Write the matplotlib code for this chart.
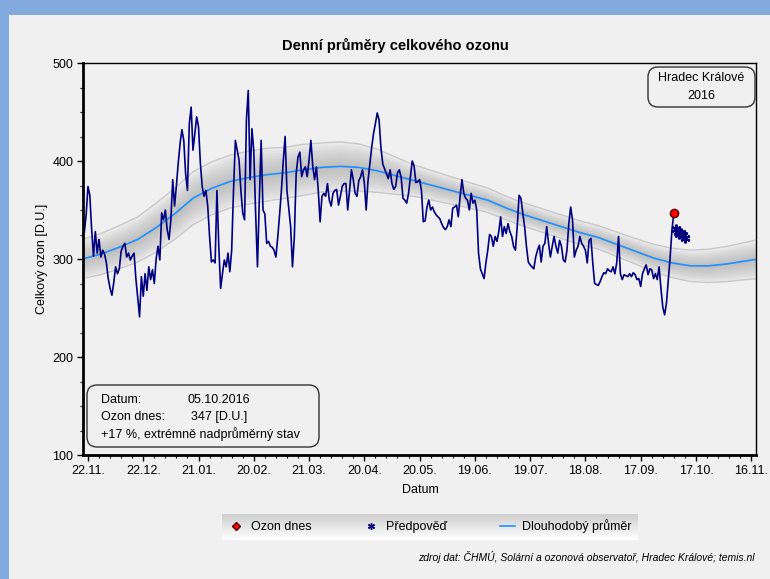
import numpy as np
import matplotlib.pyplot as plt
import matplotlib.dates as mdates
from matplotlib.patches import Rectangle, FancyBboxPatch
from matplotlib.lines import Line2D

plt.rcParams['font.family'] = ['Liberation Sans', 'DejaVu Sans']

# denni prumery celkoveho ozonu [D.U.], od 20.11.2015 do 05.10.2016
ozone = [
    327, 345, 374, 365, 330, 303, 328, 306, 320, 302,
    309, 305, 296, 280, 270, 263, 276, 292, 285, 290,
    308, 313, 316, 302, 306, 299, 303, 306, 280, 260,
    241, 282, 262, 285, 268, 292, 279, 289, 275, 300,
    313, 299, 347, 340, 350, 330, 320, 340, 381, 354,
    375, 398, 418, 432, 421, 387, 370, 438, 455, 411,
    428, 445, 435, 398, 374, 364, 370, 354, 323, 297,
    299, 296, 370, 313, 270, 285, 299, 292, 306, 287,
    309, 370, 421, 411, 401, 370, 347, 340, 442, 472,
    381,
    433, 410, 347, 292, 360, 421, 350, 346, 316, 318,
    313, 312, 309, 302, 322, 345, 370, 400, 425, 370,
    352, 333, 292, 322, 387, 404, 409, 384, 391, 394,
    384, 401, 421, 395, 381, 394, 370, 338, 364, 367,
    364, 377, 360, 354, 367, 370, 371, 355, 364, 374,
    377, 377, 350, 370, 391, 381, 367, 364, 380, 384,
    391, 378, 350, 380, 397, 414, 428, 438, 449, 442,
    414, 397, 392, 387, 382, 391, 377, 371, 374, 388,
    391, 383, 362, 360, 357, 367, 384, 400, 395, 378,
    379,
    381, 370, 338, 339, 353, 360, 350, 353, 348, 345,
    343, 341, 336, 332, 330, 333, 340, 333, 352, 353,
    355, 343, 364, 381, 367, 362, 360, 350, 367, 357,
    360, 350, 306, 290, 285, 280, 296, 309, 325, 323,
    313, 323, 318, 328, 343, 323, 333, 326, 336, 328,
    323, 313, 309, 333, 365, 362, 347, 333, 313, 297,
    294, 292, 290, 302, 309, 314, 297, 313, 316, 333,
    316, 302, 313, 323, 313, 306, 319, 313, 299, 297,
    309, 336, 353, 340, 302, 309, 313, 323, 316, 313,
    309, 296,
    319, 321, 296, 275, 274, 273, 277, 282, 286, 285,
    290, 288, 287, 292, 285, 296, 323, 285, 279, 284,
    283, 282, 285, 282, 286, 284, 279, 280, 272, 285,
    290, 294, 284, 290, 289, 280, 285, 279, 292, 270,
    251, 243, 255, 279, 302, 330, 347,
]
start = np.datetime64('2015-11-20')

# predpoved 06.10. - 11.10.
forecast = [331, 328, 326, 327, 324, 321]

# dlouhodoby prumer a rozptyl (dny od 22.11.2015)
clim_days = [-3, 7, 17, 27, 37, 47, 57, 67, 77, 87, 97, 107, 117, 127, 137, 147, 157, 167, 177,
             187, 197, 207, 217, 227, 237, 247, 257, 267, 277, 287, 297, 307, 317, 327, 337, 347, 357, 364]
clim_mean = [300, 305, 312, 320, 332, 346, 362, 372, 379, 383, 386, 388, 391, 393.5, 394.5, 393.5, 390, 385, 380,
             375, 370, 365, 360, 352, 345, 339, 333, 327, 322, 315, 308, 301, 296, 293, 293, 295, 298, 300]
clim_sd = [20, 21, 22, 23, 25, 26, 27, 27, 27, 27, 27, 26, 26, 25, 25, 24, 22, 19, 16,
           15, 14, 13, 12.5, 12, 12, 12, 12, 12, 12, 12.5, 13, 14, 15, 16, 17, 18, 19, 20]

tick_dates = ['2015-11-22', '2015-12-22', '2016-01-21', '2016-02-20', '2016-03-21', '2016-04-20', '2016-05-20',
              '2016-06-19', '2016-07-19', '2016-08-18', '2016-09-17', '2016-10-17', '2016-11-16']
tick_labels = ['22.11.', '22.12.', '21.01.', '20.02.', '21.03.', '20.04.', '20.05.',
               '19.06.', '19.07.', '18.08.', '17.09.', '17.10.', '16.11.']

base = np.datetime64('2015-11-22')
dates = start + np.arange(len(ozone))
fc_dates = dates[-1] + np.arange(1, len(forecast) + 1)
clim_dates = base + np.array(clim_days)
cm = np.array(clim_mean)
cs = np.array(clim_sd)

fig = plt.figure(figsize=(7.7, 5.79), dpi=100)
fig.patch.set_facecolor('#82aade')
fig.add_artist(Rectangle((9 / 770, 0), 1, 1 - 15 / 579, transform=fig.transFigure,
                         facecolor='#f0f0f0', edgecolor='none', zorder=0))

ax = fig.add_axes([83 / 770, 1 - 455 / 579, 673 / 770, 392 / 579])
ax.set_facecolor('#f0f0f0')

# sedy pas kolem prumeru
for f in np.linspace(1, 0.1, 10):
    ax.fill_between(clim_dates, cm - f * cs, cm + f * cs, color='#a0a0a0', alpha=0.08, lw=0)
ax.plot(clim_dates, cm + cs, color='#c8c8c8', lw=1)
ax.plot(clim_dates, cm - cs, color='#c8c8c8', lw=1)
ax.plot(clim_dates, cm, color='#1e90ff', lw=1.2)

ax.plot(dates, ozone, color='#000080', lw=1.2)
ax.plot(fc_dates, forecast, ls='none', marker=(6, 2, 0), ms=7, mew=1.6, color='#000080', zorder=4)
ax.plot(dates[-1], ozone[-1], 'o', color='red', mec='#500000', ms=6, zorder=5)

b = mdates.date2num(base)
ax.set_xlim(b - 2.7, b + 362.6)
ax.set_ylim(100, 500)
ax.set_xticks([np.datetime64(d) for d in tick_dates], labels=tick_labels)
ax.set_xticks(b + np.arange(0, 361, 6), minor=True)
ax.set_yticks([100, 200, 300, 400, 500])
ax.set_yticks(np.arange(100, 501, 25), minor=True)
ax.tick_params(which='major', direction='out', length=4, width=1, labelsize=9, pad=3)
ax.tick_params(which='minor', direction='out', length=2.5, width=0.8)
for s in ['left', 'bottom']:
    ax.spines[s].set_linewidth(2)
for s in ['top', 'right']:
    ax.spines[s].set_linewidth(1)

fig.text(395 / 770, 1 - 45 / 579, 'Denní průměry celkového ozonu', ha='center', va='center',
         fontsize=10.5, fontweight='bold')
fig.text(42 / 770, 1 - 259 / 579, 'Celkový ozon [D.U.]', rotation=90, ha='center', va='center', fontsize=9)
fig.text(420 / 770, 1 - 490 / 579, 'Datum', ha='center', va='center', fontsize=9)

# box s mistem
fig.add_artist(FancyBboxPatch((6.48, 4.72), 1.07, 0.40, boxstyle='round,pad=0,rounding_size=0.1',
                              transform=fig.dpi_scale_trans, facecolor='#f0f0f0', edgecolor='#333333', lw=1))
fig.text(701 / 770, 1 - 78 / 579, 'Hradec Králové', ha='center', va='center', fontsize=9)
fig.text(701 / 770, 1 - 96 / 579, '2016', ha='center', va='center', fontsize=9)

# info box
fig.add_artist(FancyBboxPatch((0.87, 1.32), 2.32, 0.62, boxstyle='round,pad=0,rounding_size=0.1',
                              transform=fig.dpi_scale_trans, facecolor='#f0f0f0', edgecolor='#333333', lw=1))
fig.text(101 / 770, 1 - 400 / 579, 'Datum:', va='center', fontsize=9)
fig.text(188 / 770, 1 - 400 / 579, '05.10.2016', va='center', fontsize=9)
fig.text(101 / 770, 1 - 417 / 579, 'Ozon dnes:', va='center', fontsize=9)
fig.text(191 / 770, 1 - 417 / 579, '%d [D.U.]' % ozone[-1], va='center', fontsize=9)
fig.text(101 / 770, 1 - 434 / 579, '+17 %, extrémně nadprůměrný stav', va='center', fontsize=9)

# legenda
lax = fig.add_axes([222 / 770, 1 - 540 / 579, 416 / 770, 26 / 579])
lax.imshow(np.linspace(0.8, 1.0, 30)[:, None], aspect='auto', cmap='gray', vmin=0, vmax=1)
lax.axis('off')
handles = [Line2D([], [], ls='none', marker='D', color='red', mec='#500000', ms=4),
           Line2D([], [], ls='none', marker=(6, 2, 0), color='#000080', ms=5, mew=1),
           Line2D([], [], color='#1e90ff', lw=1.2)]
fig.legend(handles, ['Ozon dnes', 'Předpověď', 'Dlouhodobý průměr'], loc='center',
           bbox_to_anchor=(430 / 770, 1 - 526 / 579), ncol=3, frameon=False, fontsize=9,
           handlelength=1.2, handletextpad=0.6, columnspacing=4.2)

fig.text(755 / 770, 1 - 557 / 579, 'zdroj dat: ČHMÚ, Solární a ozonová observatoř, Hradec Králové; temis.nl',
         ha='right', va='center', fontsize=7.5, style='italic')

fig.savefig('out.png', dpi=100)
